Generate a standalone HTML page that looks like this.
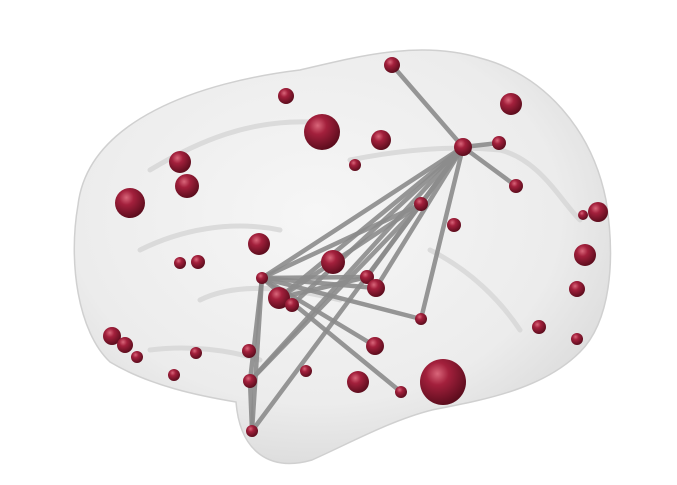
<!DOCTYPE html>
<html><head><meta charset="utf-8"><style>
html,body{margin:0;padding:0;background:#fff;width:677px;height:485px;overflow:hidden}
svg{display:block}
</style></head><body>
<svg id="chart" width="677" height="485" viewBox="0 0 677 485" xmlns="http://www.w3.org/2000/svg">
<defs>
<radialGradient id="brainG" cx="45%" cy="40%" r="65%">
<stop offset="0" stop-color="#f6f6f6"/><stop offset="0.7" stop-color="#ececec"/><stop offset="1" stop-color="#d9d9d9"/>
</radialGradient>
<radialGradient id="nodeG" cx="38%" cy="32%" r="70%">
<stop offset="0" stop-color="#d9667a"/><stop offset="0.35" stop-color="#a3203c"/><stop offset="1" stop-color="#5a0c1c"/>
</radialGradient>
</defs>
<path d="M 78 205 C 88 120, 200 82, 300 70 C 360 56, 420 40, 480 58 C 545 75, 592 130, 606 200 C 616 262, 610 322, 580 352 C 542 390, 482 400, 432 410 C 392 420, 352 442, 312 460 C 270 472, 240 452, 236 402 C 200 396, 150 386, 110 362 C 78 332, 68 262, 78 205 Z" fill="url(#brainG)" stroke="#d0d0d0" stroke-width="1.5"/>
<g fill="none" stroke="#d6d6d6" stroke-width="5" stroke-linecap="round" opacity="0.8">
<path d="M 150 170 C 200 140, 250 120, 310 122"/>
<path d="M 350 160 C 400 150, 450 145, 500 150 C 540 160, 560 200, 580 220"/>
<path d="M 140 250 C 180 230, 230 220, 280 230"/>
<path d="M 200 300 C 240 280, 300 290, 340 300"/>
<path d="M 150 350 C 190 345, 230 350, 260 360"/>
<path d="M 430 250 C 470 270, 500 300, 520 330"/>
</g>
<g id="edges"></g>
<g id="nodes"></g>
</svg>
<script>
const nodeX=[392,286,322,381,355,463,499,511,516,180,187,130,598,583,585,577,421,454,259,198,180,333,262,367,376,279,292,421,539,577,112,125,137,196,174,249,375,306,358,443,401,250,252];
const nodeY=[65,96,132,140,165,147,143,104,186,162,186,203,212,215,255,289,204,225,244,262,263,262,278,277,288,298,305,319,327,339,336,345,357,353,375,351,346,371,382,382,392,381,431];
const nodeSize=[8,8,18,10,6,9,7,11,7,11,12,15,10,5,11,8,7,7,11,7,6,12,6,7,9,11,7,6,7,6,9,8,6,6,6,7,9,6,11,23,6,7,6];
const edgeFrom=[5,5,5,5,5,5,5,5,5,5,5,5,22,22,22,22,22,22,16,16,16,41,23,25,22];
const edgeTo=[0,6,8,16,22,23,24,25,27,41,42,26,23,24,27,41,42,40,22,25,41,42,24,23,36];
const NS='http://www.w3.org/2000/svg';
const eg=document.getElementById('edges'),ng=document.getElementById('nodes');
for(let i=0;i<edgeFrom.length;i++){
 const a=edgeFrom[i],b=edgeTo[i];
 const l=document.createElementNS(NS,'line');
 l.setAttribute('x1',nodeX[a]);l.setAttribute('y1',nodeY[a]);
 l.setAttribute('x2',nodeX[b]);l.setAttribute('y2',nodeY[b]);
 l.setAttribute('stroke','#8c8c8c');l.setAttribute('stroke-width','4.5');l.setAttribute('stroke-linecap','round');l.setAttribute('opacity','0.9');
 
 
 eg.appendChild(l);
}
for(let i=0;i<nodeX.length;i++){
 const c=document.createElementNS(NS,'circle');
 c.setAttribute('cx',nodeX[i]);c.setAttribute('cy',nodeY[i]);c.setAttribute('r',nodeSize[i]);
 c.setAttribute('fill','url(#nodeG)');
 
 
 ng.appendChild(c);
}
</script>
</body></html>
